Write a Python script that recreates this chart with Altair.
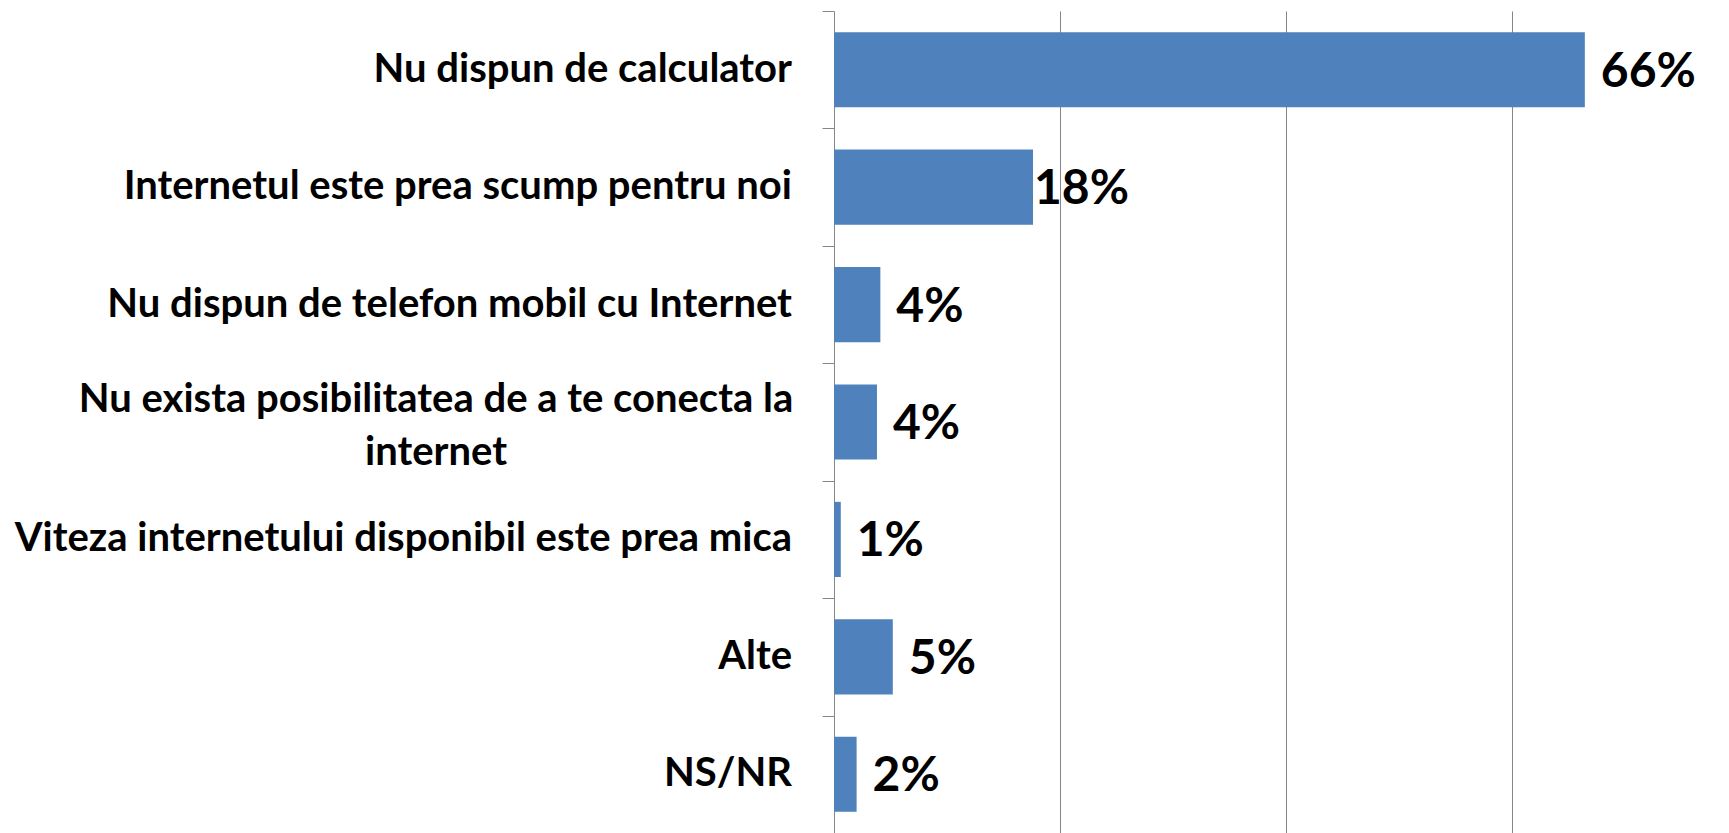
import altair as alt
import pandas as pd

categories = [
    "Nu dispun de calculator",
    "Internetul este prea scump pentru noi",
    "Nu dispun de telefon mobil cu Internet",
    "Nu exista posibilitatea de a te conecta la internet",
    "Viteza internetului disponibil este prea mica",
    "Alte",
    "NS/NR",
]
display = [
    "Nu dispun de calculator",
    "Internetul este prea scump pentru noi",
    "Nu dispun de telefon mobil cu Internet",
    "Nu exista posibilitatea de a te conecta la|internet",
    "Viteza internetului disponibil este prea mica",
    "Alte",
    "NS/NR",
]
wrapped = [False, False, False, True, False, False, False]
values = [66.4, 17.6, 4.1, 3.8, 0.6, 5.2, 2.0]
labels = ["66%", "18%", "4%", "4%", "1%", "5%", "2%"]
grid_ticks = [20, 40, 60]

df = pd.DataFrame(
    {"cat": categories, "disp": display, "wrapped": wrapped, "val": values, "lab": labels}
)

FONT = "Lato"
BLUE = "#4F81BD"
GRAY = "#868686"

y_scale = alt.Scale(domain=categories, paddingInner=0, paddingOuter=0)

y_enc = alt.Y(
    "cat:N",
    title=None,
    scale=y_scale,
    axis=alt.Axis(
        labels=False,
        tickBand="extent",
        tickSize=12,
        tickColor=GRAY,
        domainColor=GRAY,
        grid=False,
    ),
)

x_enc = alt.X(
    "val:Q",
    title=None,
    scale=alt.Scale(domain=[0, 78], nice=False),
    axis=alt.Axis(
        values=grid_ticks,
        labels=False,
        ticks=False,
        domain=False,
        grid=True,
        gridColor=GRAY,
        gridWidth=1,
    ),
)

base = alt.Chart(df)

bars = base.mark_bar(color=BLUE, height={"band": 0.64}).encode(x=x_enc, y=y_enc)

text_style = dict(
    align="left",
    baseline="middle",
    dy=3,
    font=FONT,
    fontWeight="bold",
    fontSize=48,
    color="black",
)

value_text = base.transform_filter(alt.datum.cat != categories[1]).mark_text(
    dx=16, **text_style
).encode(x=alt.X("val:Q"), y=alt.Y("cat:N"), text=alt.Text("lab:N"))

value_text_tight = base.transform_filter(alt.datum.cat == categories[1]).mark_text(
    dx=1, **text_style
).encode(x=alt.X("val:Q"), y=alt.Y("cat:N"), text=alt.Text("lab:N"))

cat_text = base.transform_filter(alt.datum.wrapped == False).mark_text(
    align="right",
    baseline="middle",
    font=FONT,
    fontWeight="bold",
    fontSize=40,
    color="black",
).encode(
    x=alt.value(-42),
    y=alt.Y("cat:N"),
    text=alt.Text("disp:N"),
)

wrapped_text = base.transform_filter(alt.datum.wrapped == True).mark_text(
    align="center",
    baseline="middle",
    lineBreak="|",
    lineHeight=53,
    dy=-22,
    font=FONT,
    fontWeight="bold",
    fontSize=40,
    color="black",
).encode(
    x=alt.value(-398),
    y=alt.Y("cat:N"),
    text=alt.Text("disp:N"),
)

chart = (
    alt.layer(bars, value_text, value_text_tight, cat_text, wrapped_text)
    .properties(
        width=882,
        height=822,
        autosize=alt.AutoSizeParams(type="none"),
        padding={"left": 826, "top": 3, "right": 0, "bottom": 0},
    )
    .configure_view(strokeWidth=0)
)

chart.save("out.html", embed_options={"renderer": "svg", "actions": False})
